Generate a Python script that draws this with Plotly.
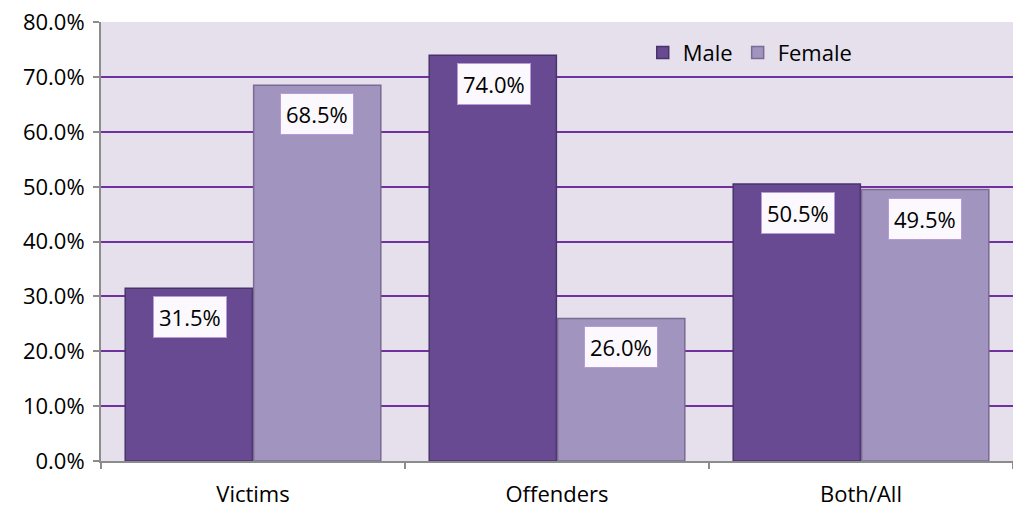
import plotly.graph_objects as go

categories = ["Victims", "Offenders", "Both/All"]
male = [0.315, 0.740, 0.505]
female = [0.685, 0.260, 0.495]
series_names = ["Male", "Female"]

male_color = "#674A91"
female_color = "#A194BF"
FONT = "Open Sans"

fig = go.Figure()
fig.add_trace(go.Bar(x=categories, y=male, name=series_names[0],
                     marker=dict(color=male_color, line=dict(color="#4A336B", width=1.5))))
fig.add_trace(go.Bar(x=categories, y=female, name=series_names[1],
                     marker=dict(color=female_color, line=dict(color="#7A6B94", width=1.5))))

annotations = []
for vals, shift in ((male, -63), (female, 64)):
    for c, v in zip(categories, vals):
        annotations.append(dict(
            x=c, y=v, xref="x", yref="y", text=f"{v*100:.1f}%", showarrow=False,
            xshift=shift, yshift=-8, yanchor="top",
            font=dict(size=22, color="#000000", family=FONT),
            bgcolor="#FBF9FD", bordercolor="#B79AD8", borderwidth=1, borderpad=5))

fig.update_layout(
    width=1013, height=508,
    margin=dict(l=101, r=0, t=22, b=47, autoexpand=False),
    paper_bgcolor="white", plot_bgcolor="#E5E0EC",
    barmode="group", bargap=0.155, bargroupgap=0.01,
    font=dict(family=FONT, size=22, color="#000000"),
    showlegend=True,
    legend=dict(orientation="h", x=0.594, y=0.93, xanchor="left", yanchor="middle",
                bgcolor="rgba(0,0,0,0)", font=dict(size=22), itemwidth=30,
                traceorder="normal"),
    annotations=annotations,
)
fig.update_yaxes(range=[0, 0.8005], tickvals=[i / 10 for i in range(9)],
                 tickformat=".1%", automargin=False, ticklabeloverflow="allow",
                 showgrid=True, gridcolor="#7030A0", gridwidth=2,
                 showline=True, linecolor="#8C8C8C", linewidth=2,
                 ticks="outside", ticklen=6, tickcolor="#8C8C8C", tickwidth=2,
                 ticklabelstandoff=4, zeroline=False, tickfont=dict(size=22))
fig.update_xaxes(showline=True, linecolor="#8C8C8C", linewidth=2, automargin=False,
                 ticks="outside", tickson="boundaries", ticklen=6,
                 ticklabeloverflow="allow",
                 tickcolor="#8C8C8C", tickwidth=2, ticklabelstandoff=13,
                 tickfont=dict(size=22))

fig.write_html("out.html", config={"displayModeBar": False},
               post_script="document.body.style.margin='0';document.body.style.overflow='hidden';")
